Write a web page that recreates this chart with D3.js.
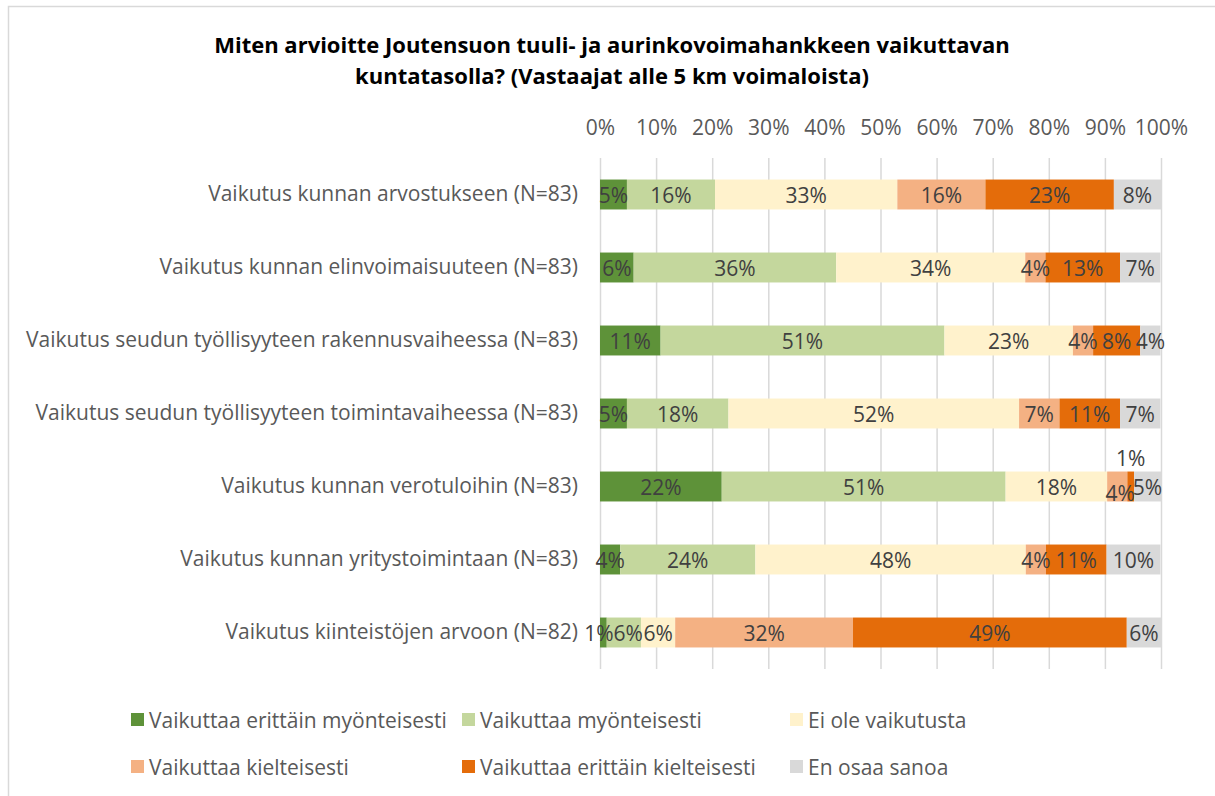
<!DOCTYPE html>
<html>
<head>
<meta charset="utf-8">
<script src="https://cdn.jsdelivr.net/npm/d3@7"></script>
<style>
  html, body { margin: 0; padding: 0; background: #fff; }
  svg { display: block; font-family: "Open Sans", sans-serif; }
</style>
</head>
<body>
<svg id="chart" width="1215" height="796"></svg>
<script>
const titleLines = [
    'Miten arvioitte Joutensuon tuuli- ja aurinkovoimahankkeen vaikuttavan',
    'kuntatasolla? (Vastaajat alle 5 km voimaloista)'
];

const categories = [
    'Vaikutus kunnan arvostukseen (N=83)',
    'Vaikutus kunnan elinvoimaisuuteen (N=83)',
    'Vaikutus seudun työllisyyteen rakennusvaiheessa (N=83)',
    'Vaikutus seudun työllisyyteen toimintavaiheessa (N=83)',
    'Vaikutus kunnan verotuloihin (N=83)',
    'Vaikutus kunnan yritystoimintaan (N=83)',
    'Vaikutus kiinteistöjen arvoon (N=82)'
];

const seriesNames = [
    'Vaikuttaa erittäin myönteisesti',
    'Vaikuttaa myönteisesti',
    'Ei ole vaikutusta',
    'Vaikuttaa kielteisesti',
    'Vaikuttaa erittäin kielteisesti',
    'En osaa sanoa'
];

const seriesColors = ['#5E9239', '#C4D79D', '#FFF2CC', '#F4B183', '#E46C0A', '#D9D9D9'];

// shares in percent, one array per series, in category order
const veryPositive = [4.8, 6.0, 10.8, 4.8, 21.7, 3.6, 1.2];
const positive     = [15.7, 36.1, 50.6, 18.1, 50.6, 24.1, 6.1];
const noEffect     = [32.5, 33.7, 22.9, 51.8, 18.1, 48.2, 6.1];
const negative     = [15.7, 3.6, 3.6, 7.2, 3.6, 3.6, 31.7];
const veryNegative = [22.9, 13.3, 8.4, 10.8, 1.2, 10.8, 48.8];
const dontKnow     = [8.4, 7.2, 3.6, 7.2, 4.8, 9.6, 6.1];

const tickValues = [0, 10, 20, 30, 40, 50, 60, 70, 80, 90, 100];

const seriesValues = [veryPositive, positive, noEffect, negative, veryNegative, dontKnow];

const chartProperties = {
    plot: { left: 600, right: 1161, top: 158, bottom: 669 }
};
const FONT = '"Open Sans", sans-serif';
const LABEL_SIZE = '21px';

const svg = d3.select('#chart');

// chart border (cropped at right / bottom like the source)
svg.append('rect')
    .attr('x', 8.5).attr('y', 6.5)
    .attr('width', 1230).attr('height', 820)
    .attr('fill', 'none').attr('stroke', '#d9d9d9').attr('stroke-width', 1.5);

// title
svg.append('g').selectAll('text').data(titleLines).enter().append('text')
    .attr('x', 612)
    .attr('y', (d, i) => 53 + i * 31)
    .attr('text-anchor', 'middle')
    .style('font-size', '22px')
    .style('font-weight', 'bold')
    .style('fill', '#000')
    .text(d => d);

const xScale = d3.scaleLinear().domain([0, 100])
    .range([chartProperties.plot.left, chartProperties.plot.right]);
const yScale = d3.scaleBand().domain(categories)
    .range([chartProperties.plot.top, chartProperties.plot.bottom])
    .paddingInner(0.59).paddingOuter(0.295);

// vertical grid
svg.append('g')
    .attr('transform', `translate(0 ${chartProperties.plot.top})`)
    .call(d3.axisBottom(xScale).tickValues(tickValues)
        .tickSizeInner(chartProperties.plot.bottom - chartProperties.plot.top)
        .tickSizeOuter(0).tickFormat(''))
    .call(g => g.select('.domain').remove())
    .call(g => g.selectAll('line').attr('stroke', '#d9d9d9').attr('stroke-width', 1.5));

// top axis labels
svg.append('g')
    .attr('transform', `translate(0 ${chartProperties.plot.top})`)
    .call(d3.axisTop(xScale).tickValues(tickValues).tickSize(0).tickPadding(23)
        .tickFormat(d => d + '%'))
    .call(g => g.select('.domain').remove())
    .call(g => g.selectAll('text').style('font-size', LABEL_SIZE).style('fill', '#595959')
        .style('font-family', FONT));

// category labels
svg.append('g')
    .attr('transform', `translate(${chartProperties.plot.left} 0)`)
    .call(d3.axisLeft(yScale).tickSize(0).tickPadding(22))
    .call(g => g.select('.domain').remove())
    .call(g => g.selectAll('text').style('font-size', LABEL_SIZE).style('fill', '#595959')
        .style('font-family', FONT));

// stacked bars
const rows = categories.map((c, i) => {
    const row = { category: c };
    seriesNames.forEach((s, j) => { row[s] = seriesValues[j][i]; });
    return row;
});
const stacked = d3.stack().keys(seriesNames)(rows);

const layers = svg.append('g').selectAll('g').data(stacked).enter().append('g')
    .attr('fill', (d, i) => seriesColors[i]);

layers.selectAll('rect').data(d => d).enter().append('rect')
    .attr('x', d => xScale(d[0]))
    .attr('y', d => yScale(d.data.category))
    .attr('width', d => xScale(d[1]) - xScale(d[0]))
    .attr('height', yScale.bandwidth());

// data labels: a very thin segment squeezed between two others gets its label lifted above the bar
const isLifted = (si, ci) => {
    const w = xScale(stacked[si][ci][1]) - xScale(stacked[si][ci][0]);
    return w < 10 && si > 0 && si < stacked.length - 1;
};

const labelGroup = svg.append('g');
categories.forEach((c, ci) => {
    const texts = stacked.map((layer, si) => {
        const d = layer[ci];
        const cx = (xScale(d[0]) + xScale(d[1])) / 2;
        const cy = yScale(c) + yScale.bandwidth() / 2;
        let dx = 0, dy = 0;
        if (isLifted(si, ci)) dy = -yScale.bandwidth() / 2 - 14;
        else if (si + 1 < stacked.length && isLifted(si + 1, ci)) { dx = 3; dy = 6; }
        return labelGroup.append('text')
            .attr('x', cx + dx)
            .attr('y', cy + dy)
            .attr('text-anchor', 'middle')
            .attr('dominant-baseline', 'central')
            .style('font-size', LABEL_SIZE)
            .style('fill', '#404040')
            .text(Math.round(d[1] - d[0]) + '%');
    });
    // first two labels pushed apart if they run into each other
    const b0 = texts[0].node().getBBox();
    const b1 = texts[1].node().getBBox();
    const overlap = b0.x + b0.width - b1.x;
    if (overlap > 0) {
        texts[0].attr('x', +texts[0].attr('x') - overlap / 2);
        texts[1].attr('x', +texts[1].attr('x') + overlap / 2);
    }
});

// legend
const legendCols = [131, 462, 790];
const legendRows = [720, 767];
const legend = svg.append('g').selectAll('g').data(seriesNames).enter().append('g')
    .attr('transform', (d, i) => `translate(${legendCols[i % 3]} ${legendRows[Math.floor(i / 3)]})`);
legend.append('rect')
    .attr('x', 0).attr('y', -7).attr('width', 13).attr('height', 13)
    .attr('fill', (d, i) => seriesColors[i]);
legend.append('text')
    .attr('x', 18).attr('y', 0)
    .attr('dominant-baseline', 'central')
    .style('font-size', LABEL_SIZE)
    .style('fill', '#595959')
    .text(d => d);
</script>
</body>
</html>
